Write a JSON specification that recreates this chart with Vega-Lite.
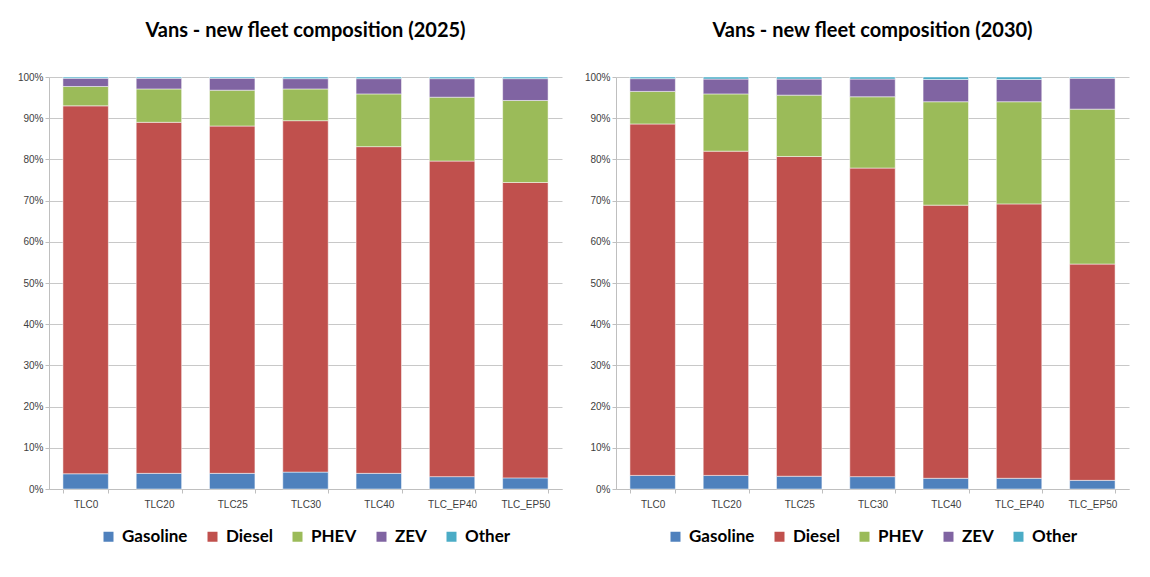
{
  "$schema": "https://vega.github.io/schema/vega-lite/v6.json",
  "padding": {"top": 21, "left": 17, "right": 5, "bottom": 5},
  "data": {"values": [
    {"year": "2025", "scenario": "TLC0", "type": "Gasoline", "share": 3.7},
    {"year": "2025", "scenario": "TLC0", "type": "Diesel", "share": 89.3},
    {"year": "2025", "scenario": "TLC0", "type": "PHEV", "share": 4.7},
    {"year": "2025", "scenario": "TLC0", "type": "ZEV", "share": 2.0},
    {"year": "2025", "scenario": "TLC0", "type": "Other", "share": 0.3},
    {"year": "2025", "scenario": "TLC20", "type": "Gasoline", "share": 3.8},
    {"year": "2025", "scenario": "TLC20", "type": "Diesel", "share": 85.2},
    {"year": "2025", "scenario": "TLC20", "type": "PHEV", "share": 8.1},
    {"year": "2025", "scenario": "TLC20", "type": "ZEV", "share": 2.6},
    {"year": "2025", "scenario": "TLC20", "type": "Other", "share": 0.3},
    {"year": "2025", "scenario": "TLC25", "type": "Gasoline", "share": 3.8},
    {"year": "2025", "scenario": "TLC25", "type": "Diesel", "share": 84.3},
    {"year": "2025", "scenario": "TLC25", "type": "PHEV", "share": 8.7},
    {"year": "2025", "scenario": "TLC25", "type": "ZEV", "share": 2.9},
    {"year": "2025", "scenario": "TLC25", "type": "Other", "share": 0.3},
    {"year": "2025", "scenario": "TLC30", "type": "Gasoline", "share": 4.1},
    {"year": "2025", "scenario": "TLC30", "type": "Diesel", "share": 85.3},
    {"year": "2025", "scenario": "TLC30", "type": "PHEV", "share": 7.7},
    {"year": "2025", "scenario": "TLC30", "type": "ZEV", "share": 2.5},
    {"year": "2025", "scenario": "TLC30", "type": "Other", "share": 0.4},
    {"year": "2025", "scenario": "TLC40", "type": "Gasoline", "share": 3.8},
    {"year": "2025", "scenario": "TLC40", "type": "Diesel", "share": 79.3},
    {"year": "2025", "scenario": "TLC40", "type": "PHEV", "share": 12.8},
    {"year": "2025", "scenario": "TLC40", "type": "ZEV", "share": 3.7},
    {"year": "2025", "scenario": "TLC40", "type": "Other", "share": 0.4},
    {"year": "2025", "scenario": "TLC_EP40", "type": "Gasoline", "share": 3.0},
    {"year": "2025", "scenario": "TLC_EP40", "type": "Diesel", "share": 76.6},
    {"year": "2025", "scenario": "TLC_EP40", "type": "PHEV", "share": 15.5},
    {"year": "2025", "scenario": "TLC_EP40", "type": "ZEV", "share": 4.5},
    {"year": "2025", "scenario": "TLC_EP40", "type": "Other", "share": 0.4},
    {"year": "2025", "scenario": "TLC_EP50", "type": "Gasoline", "share": 2.7},
    {"year": "2025", "scenario": "TLC_EP50", "type": "Diesel", "share": 71.7},
    {"year": "2025", "scenario": "TLC_EP50", "type": "PHEV", "share": 19.9},
    {"year": "2025", "scenario": "TLC_EP50", "type": "ZEV", "share": 5.3},
    {"year": "2025", "scenario": "TLC_EP50", "type": "Other", "share": 0.4},
    {"year": "2030", "scenario": "TLC0", "type": "Gasoline", "share": 3.3},
    {"year": "2030", "scenario": "TLC0", "type": "Diesel", "share": 85.3},
    {"year": "2030", "scenario": "TLC0", "type": "PHEV", "share": 7.9},
    {"year": "2030", "scenario": "TLC0", "type": "ZEV", "share": 3.1},
    {"year": "2030", "scenario": "TLC0", "type": "Other", "share": 0.4},
    {"year": "2030", "scenario": "TLC20", "type": "Gasoline", "share": 3.3},
    {"year": "2030", "scenario": "TLC20", "type": "Diesel", "share": 78.7},
    {"year": "2030", "scenario": "TLC20", "type": "PHEV", "share": 13.9},
    {"year": "2030", "scenario": "TLC20", "type": "ZEV", "share": 3.6},
    {"year": "2030", "scenario": "TLC20", "type": "Other", "share": 0.5},
    {"year": "2030", "scenario": "TLC25", "type": "Gasoline", "share": 3.1},
    {"year": "2030", "scenario": "TLC25", "type": "Diesel", "share": 77.6},
    {"year": "2030", "scenario": "TLC25", "type": "PHEV", "share": 14.9},
    {"year": "2030", "scenario": "TLC25", "type": "ZEV", "share": 3.9},
    {"year": "2030", "scenario": "TLC25", "type": "Other", "share": 0.5},
    {"year": "2030", "scenario": "TLC30", "type": "Gasoline", "share": 3.0},
    {"year": "2030", "scenario": "TLC30", "type": "Diesel", "share": 74.9},
    {"year": "2030", "scenario": "TLC30", "type": "PHEV", "share": 17.3},
    {"year": "2030", "scenario": "TLC30", "type": "ZEV", "share": 4.3},
    {"year": "2030", "scenario": "TLC30", "type": "Other", "share": 0.5},
    {"year": "2030", "scenario": "TLC40", "type": "Gasoline", "share": 2.6},
    {"year": "2030", "scenario": "TLC40", "type": "Diesel", "share": 66.3},
    {"year": "2030", "scenario": "TLC40", "type": "PHEV", "share": 25.1},
    {"year": "2030", "scenario": "TLC40", "type": "ZEV", "share": 5.4},
    {"year": "2030", "scenario": "TLC40", "type": "Other", "share": 0.6},
    {"year": "2030", "scenario": "TLC_EP40", "type": "Gasoline", "share": 2.6},
    {"year": "2030", "scenario": "TLC_EP40", "type": "Diesel", "share": 66.6},
    {"year": "2030", "scenario": "TLC_EP40", "type": "PHEV", "share": 24.8},
    {"year": "2030", "scenario": "TLC_EP40", "type": "ZEV", "share": 5.4},
    {"year": "2030", "scenario": "TLC_EP40", "type": "Other", "share": 0.6},
    {"year": "2030", "scenario": "TLC_EP50", "type": "Gasoline", "share": 2.1},
    {"year": "2030", "scenario": "TLC_EP50", "type": "Diesel", "share": 52.5},
    {"year": "2030", "scenario": "TLC_EP50", "type": "PHEV", "share": 37.6},
    {"year": "2030", "scenario": "TLC_EP50", "type": "ZEV", "share": 7.5},
    {"year": "2030", "scenario": "TLC_EP50", "type": "Other", "share": 0.3}
  ]},
  "hconcat": [
    {
      "title": {"text": "Vans - new fleet composition (2025)"},
      "width": 513,
      "height": 412,
      "transform": [
        {"filter": "datum.year == '2025'"},
        {"calculate": "indexof(['Gasoline','Diesel','PHEV','ZEV','Other'], datum.type)", "as": "k"}
      ],
      "mark": {"type": "bar", "stroke": "white", "strokeWidth": 0.5},
      "encoding": {
        "x": {"field": "scenario", "type": "nominal", "sort": ["TLC0","TLC20","TLC25","TLC30","TLC40","TLC_EP40","TLC_EP50"], "title": null,
              "scale": {"paddingInner": 0.38, "paddingOuter": 0.19},
              "axis": {"labelAngle": 0, "tickBand": "extent", "tickSize": 4, "grid": false, "labelPadding": 6}},
        "y": {"field": "share", "type": "quantitative", "stack": "zero", "scale": {"domain": [0, 100]},
              "axis": {"values": [0,10,20,30,40,50,60,70,80,90,100], "labelExpr": "datum.value + '%'", "title": null, "grid": true, "tickSize": 4}},
        "color": {"field": "type", "type": "nominal", "sort": ["Gasoline","Diesel","PHEV","ZEV","Other"],
                  "scale": {"domain": ["Gasoline","Diesel","PHEV","ZEV","Other"], "range": ["#4F81BD","#C0504D","#9BBB59","#8064A2","#4BACC6"]},
                  "legend": {"title": null, "orient": "bottom", "direction": "horizontal"}},
        "order": {"field": "k", "type": "quantitative"}
      }
    },
    {
      "title": {"text": "Vans - new fleet composition (2030)"},
      "width": 513,
      "height": 412,
      "transform": [
        {"filter": "datum.year == '2030'"},
        {"calculate": "indexof(['Gasoline','Diesel','PHEV','ZEV','Other'], datum.type)", "as": "k"}
      ],
      "mark": {"type": "bar", "stroke": "white", "strokeWidth": 0.5},
      "encoding": {
        "x": {"field": "scenario", "type": "nominal", "sort": ["TLC0","TLC20","TLC25","TLC30","TLC40","TLC_EP40","TLC_EP50"], "title": null,
              "scale": {"paddingInner": 0.38, "paddingOuter": 0.19},
              "axis": {"labelAngle": 0, "tickBand": "extent", "tickSize": 4, "grid": false, "labelPadding": 6}},
        "y": {"field": "share", "type": "quantitative", "stack": "zero", "scale": {"domain": [0, 100]},
              "axis": {"values": [0,10,20,30,40,50,60,70,80,90,100], "labelExpr": "datum.value + '%'", "title": null, "grid": true, "tickSize": 4}},
        "color": {"field": "type", "type": "nominal", "sort": ["Gasoline","Diesel","PHEV","ZEV","Other"],
                  "scale": {"domain": ["Gasoline","Diesel","PHEV","ZEV","Other"], "range": ["#4F81BD","#C0504D","#9BBB59","#8064A2","#4BACC6"]},
                  "legend": {"title": null, "orient": "bottom", "direction": "horizontal"}},
        "order": {"field": "k", "type": "quantitative"}
      }
    }
  ],
  "spacing": 22,
  "resolve": {"legend": {"color": "independent"}, "scale": {"color": "independent"}},
  "config": {
    "font": "Lato",
    "view": {"stroke": null},
    "title": {"fontSize": 20, "fontWeight": "bold", "color": "#000000", "anchor": "middle", "offset": 31, "font": "Lato"},
    "axis": {"labelFontSize": 10, "labelColor": "#404040", "domainColor": "#bfbfbf", "gridColor": "#c8c8c8", "tickColor": "#bfbfbf", "labelFont": "Liberation Sans"},
    "legend": {"labelFontSize": 17, "labelFontWeight": "bold", "labelColor": "#000000", "symbolType": "square", "symbolSize": 100, "symbolStrokeWidth": 0, "columnPadding": 16, "labelOffset": 5, "offset": 19, "layout": {"bottom": {"anchor": "middle"}}}
  }
}
